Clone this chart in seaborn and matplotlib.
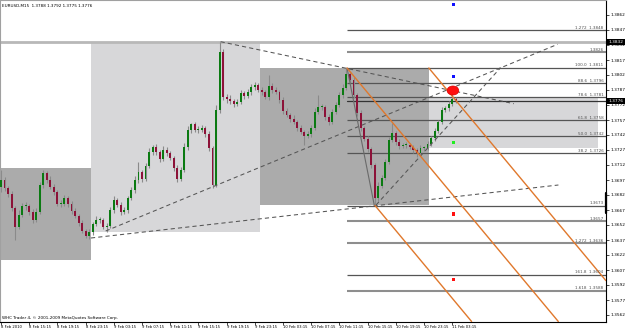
import numpy as np
import pandas as pd
import matplotlib
matplotlib.use("Agg")
import matplotlib.pyplot as plt
import seaborn as sns
from matplotlib.patches import Rectangle, Ellipse
from matplotlib.transforms import blended_transform_factory

# ---------------- data (prices in 1/10000 units, 30-min candles) ----------------
OPEN_P = [13690,13697,13689,13683,13669,13650,13662,13671,13671,13665,
          13657,13665,13692,13704,13697,13690,13685,13673,13673,13679,
          13673,13666,13661,13654,13646,13641,13645,13653,13657,13657,
          13650,13651,13667,13677,13672,13665,13667,13679,13687,13697,
          13705,13698,13711,13725,13730,13725,13718,13727,13724,13719,
          13709,13698,13707,13730,13747,13753,13747,13747,13749,13743,
          13729,13692,13767,13825,13780,13778,13776,13773,13775,13784,
          13781,13785,13790,13792,13787,13785,13780,13791,13787,13785,
          13777,13766,13762,13758,13755,13749,13745,13741,13743,13749,
          13765,13770,13770,13760,13755,13765,13772,13782,13789,13803,
          13797,13782,13764,13749,13738,13728,13712,13679,13691,13699,
          13715,13737,13744,13735,13731,13732,13732,13730,13727,13724,
          13729,13729,13733,13739,13746,13755,13767,13769,13773,13778]
HIGH_P = [13707,13700,13691,13686,13671,13667,13674,13675,13673,13668,
          13669,13695,13707,13706,13701,13693,13687,13677,13682,13681,
          13676,13669,13663,13657,13648,13648,13655,13661,13660,13659,
          13654,13670,13681,13679,13675,13670,13681,13690,13701,13715,
          13707,13714,13729,13732,13733,13727,13731,13730,13726,13721,
          13712,13710,13734,13751,13754,13755,13751,13752,13751,13746,
          13731,13772,13835,13828,13783,13782,13778,13778,13787,13786,
          13788,13793,13795,13794,13790,13787,13802,13794,13790,13787,
          13780,13769,13764,13762,13757,13752,13747,13746,13752,13769,
          13782,13773,13772,13763,13768,13775,13785,13793,13809,13805,
          13800,13784,13767,13751,13741,13730,13714,13695,13702,13718,
          13740,13754,13746,13738,13734,13735,13734,13732,13729,13732,
          13731,13736,13741,13749,13757,13770,13771,13776,13785,13780]
LOW_P = [13685,13686,13680,13666,13637,13648,13660,13667,13662,13654,
         13655,13663,13689,13694,13688,13682,13671,13670,13671,13670,
         13663,13659,13651,13644,13639,13638,13642,13651,13654,13648,
         13645,13649,13664,13670,13662,13663,13664,13677,13684,13694,
         13695,13696,13709,13722,13722,13715,13716,13721,13717,13706,
         13695,13696,13705,13727,13744,13745,13744,13745,13740,13726,
         13689,13690,13764,13777,13774,13773,13770,13771,13773,13778,
         13779,13782,13787,13785,13782,13778,13777,13784,13783,13774,
         13763,13760,13755,13753,13746,13743,13732,13739,13740,13747,
         13763,13767,13757,13752,13753,13763,13770,13779,13787,13794,
         13779,13761,13746,13736,13725,13709,13672,13676,13689,13697,
         13713,13735,13732,13728,13729,13729,13728,13724,13720,13722,
         13726,13727,13731,13736,13744,13753,13765,13766,13771,13774]
CLOSE_P = [13697,13689,13683,13669,13650,13662,13671,13671,13665,13657,
           13665,13692,13704,13697,13690,13685,13673,13673,13679,13673,
           13666,13661,13654,13646,13641,13645,13653,13657,13657,13650,
           13651,13667,13677,13672,13665,13667,13679,13687,13697,13705,
           13698,13711,13725,13730,13725,13718,13727,13724,13719,13709,
           13698,13707,13730,13747,13753,13747,13747,13749,13743,13729,
           13692,13767,13825,13780,13778,13776,13773,13775,13784,13781,
           13785,13790,13792,13787,13785,13780,13791,13787,13785,13777,
           13766,13762,13758,13755,13749,13745,13741,13743,13749,13765,
           13770,13770,13760,13755,13765,13772,13782,13789,13803,13797,
           13782,13764,13749,13738,13728,13712,13679,13691,13699,13715,
           13737,13744,13735,13731,13732,13732,13730,13727,13724,13729,
           13729,13733,13739,13746,13755,13767,13769,13773,13778,13776]

X_TICK_POS = [0, 8, 16, 24, 32, 40, 48, 56, 64, 72, 80, 88, 96, 104, 112, 120, 128]
X_TICK_LABELS = ["8 Feb 2010", "8 Feb 15:15", "8 Feb 19:15", "8 Feb 23:15",
                 "9 Feb 03:15", "9 Feb 07:15", "9 Feb 11:15", "9 Feb 15:15",
                 "9 Feb 19:15", "9 Feb 23:15", "10 Feb 03:15", "10 Feb 07:15",
                 "10 Feb 11:15", "10 Feb 15:15", "10 Feb 19:15", "10 Feb 23:15",
                 "11 Feb 03:15"]
Y_TICKS = [1.3562, 1.3577, 1.3592, 1.3607, 1.3622, 1.3637, 1.3652, 1.3667, 1.3682,
           1.3697, 1.3712, 1.3727, 1.3742, 1.3757, 1.3772, 1.3787, 1.3802, 1.3817,
           1.3832, 1.3847, 1.3862]

# zones (start bar, end bar, top, bottom, shade)
ZONE_X0 = [-0.5, 25.53, 73.48, 121.36]
ZONE_X1 = [25.53, 73.48, 121.36, 169.36]
ZONE_TOP = [1.37093, 1.38353, 1.3809, 1.3779]
ZONE_BOT = [1.3617, 1.36447, 1.36717, 1.3729]
ZONE_COL = ["#ababab", "#d7d7d9", "#ababab", "#d7d7d9"]

# fibonacci levels
FIB_START = 98.16
FIB_PRICE = [1.3847, 1.38247, 1.38093, 1.37937, 1.3780, 1.37567, 1.37407, 1.37237,
             1.36713, 1.3656, 1.3634, 1.36023, 1.35863]
FIB_LABEL = ["1.272  1.3848", "1.3826", "100.0  1.3811", "88.6  1.3796", "78.6  1.3781",
             "61.8  1.3758", "50.0  1.3742", "38.2  1.3726", "1.3673", "1.3657",
             "1.272  1.3636", "161.8  1.3604", "1.618  1.3588"]
FIB_LIGHT = [False, True, False, False, False, False, False, False, False, True,
             True, False, True]

# dashed trend lines
TL_X0 = [25.53, 29.70, 62.30, 106.4]
TL_P0 = [1.3639, 1.3646, 1.38353, 1.3672]
TL_X1 = [158.13, 157.9, 145.48, 141.73]
TL_P1 = [1.3692, 1.38327, 1.37733, 1.38093]
# zigzag solid line
ZZ_X = [98.16, 105.9]
ZZ_P = [1.3809, 1.36717]
# orange parallel channel lines
OR_X0 = [98.16, 106.1, 121.36]
OR_P0 = [1.3809, 1.36715, 1.3809]
OR_X1 = [158.1, 133.5, 171.6]
OR_P1 = [1.35555, 1.35555, 1.35964]

# signal dots
DOT_X = [128.37, 128.37, 128.37, 128.37, 128.37]
DOT_P = [1.38723, 1.38003, 1.37347, 1.3663, 1.35977]
DOT_C = ["blue", "blue", "lime", "red", "red"]
BLOB_X, BLOB_P = 128.2, 1.37865

HIGH_LINE = 1.38353
BID = 1.3776

# ---------------- figure ----------------
sns.set_theme(style="white")
plt.rcParams['font.family'] = ['DejaVu Sans']

fig = plt.figure(figsize=(6.25, 3.31), dpi=100)
ax = fig.add_axes([0.0, 9.5 / 331, 606 / 625, 321.5 / 331])
ax.set_facecolor("white")
XMIN, XMAX = -0.284, 171.63
YMIN, YMAX = 1.35555, 1.3877
ax.set_xlim(XMIN, XMAX)
ax.set_ylim(YMIN, YMAX)

# zones
for x0, x1, t, b, c in zip(ZONE_X0, ZONE_X1, ZONE_TOP, ZONE_BOT, ZONE_COL):
    ax.add_patch(Rectangle((x0, b), x1 - x0, t - b, facecolor=c, edgecolor="none", zorder=0))

# horizontal high line
ax.axhline(HIGH_LINE, color="#b8b8b8", lw=2.0, zorder=1)

# fib levels
tr = blended_transform_factory(ax.transAxes, ax.transData)
for p, lab, light in zip(FIB_PRICE, FIB_LABEL, FIB_LIGHT):
    ax.plot([FIB_START, XMAX], [p, p], color="#8e8e8e" if light else "#555555",
            lw=1.5 if light else 0.9, zorder=1.5, solid_capstyle="butt")
    ax.text(0.996, p + 0.00004, lab, transform=tr, ha="right", va="bottom",
            fontsize=3.0, color="#505050", zorder=5)
ax.plot([FIB_START, XMAX], [BID, BID], color="#333333", lw=0.9, zorder=1.5)

# candles
o = np.array(OPEN_P) / 10000.0
h = np.array(HIGH_P) / 10000.0
l = np.array(LOW_P) / 10000.0
c = np.array(CLOSE_P) / 10000.0
x = np.arange(len(c))
df = pd.DataFrame({"x": x, "open": o, "high": h, "low": l, "close": c})
ax.vlines(df["x"], df["low"], df["high"], color="#8a8a8a", lw=0.8, zorder=2)
up = df["close"] >= df["open"]
body = (df["close"] - df["open"]).abs().clip(lower=0.00006)
bottom = df[["open", "close"]].min(axis=1)
ax.bar(df["x"][up], body[up], bottom=bottom[up], width=0.55, color="#0b7a12",
       edgecolor="none", zorder=3)
ax.bar(df["x"][~up], body[~up], bottom=bottom[~up], width=0.55, color="#8c1238",
       edgecolor="none", zorder=3)

# trend lines
for x0, p0, x1, p1 in zip(TL_X0, TL_P0, TL_X1, TL_P1):
    ax.plot([x0, x1], [p0, p1], color="#555555", lw=0.75, ls=(0, (4, 3)), zorder=4)
ax.plot(ZZ_X, ZZ_P, color="#6a6a6a", lw=0.8, zorder=4)
for x0, p0, x1, p1 in zip(OR_X0, OR_P0, OR_X1, OR_P1):
    ax.plot([x0, x1], [p0, p1], color="#e0782c", lw=1.0, zorder=4)

# dots
ax.add_patch(Ellipse((BLOB_X, BLOB_P), 3.3, 0.0009, facecolor="#ff1010",
                     edgecolor="#dd0000", lw=0.5, zorder=6))
dots = pd.DataFrame({"x": DOT_X, "p": DOT_P, "c": DOT_C})
sns.scatterplot(data=dots, x="x", y="p", hue="c", palette={"blue": "#1010ff", "lime": "#22ee22", "red": "#ff1010"},
                marker="s", s=5, linewidth=0, legend=False, ax=ax, zorder=6)
ax.set_xlabel("")
ax.set_ylabel("")

# axes styling
ax.yaxis.tick_right()
ax.set_yticks(Y_TICKS)
ax.set_yticklabels([f"{v:.4f}" for v in Y_TICKS])
ax.set_xticks(X_TICK_POS)
ax.set_xticklabels(X_TICK_LABELS)
for lbl in ax.get_xticklabels():
    lbl.set_ha("left")
ax.tick_params(axis="x", length=2.0, width=0.5, pad=0.8, labelsize=2.7, colors="black", bottom=True)
ax.tick_params(axis="y", length=2.0, width=0.5, pad=1.0, labelsize=3.1, colors="black", right=True, left=False)
for s in ["top", "left"]:
    ax.spines[s].set_color("#a0a0a0")
    ax.spines[s].set_linewidth(0.8)
for s in ["right", "bottom"]:
    ax.spines[s].set_color("black")
    ax.spines[s].set_linewidth(0.8)
ax.grid(False)

# price boxes on axis
for p, txt in [(HIGH_LINE, "1.3832"), (BID, "1.3776")]:
    ax.text(1.004, p, txt, transform=tr, ha="left", va="center", fontsize=3.1, color="white",
            bbox=dict(facecolor="black", edgecolor="none", pad=0.8), clip_on=False, zorder=7)
ax.plot([1.0, 1.0], [1.3684, 1.3664], transform=tr, color="black", lw=1.6, clip_on=False, zorder=7)

# texts
ax.text(0.004, 0.988, "EURUSD,M15  1.3788 1.3792 1.3775 1.3776", transform=ax.transAxes,
        ha="left", va="top", fontsize=3.0, color="black")
ax.text(0.004, 0.004, "WHC Trader 4, \u00a9 2001-2009 MetaQuotes Software Corp.", transform=ax.transAxes,
        ha="left", va="bottom", fontsize=3.0, color="black")

fig.savefig("out.png", dpi=100, facecolor="white")
